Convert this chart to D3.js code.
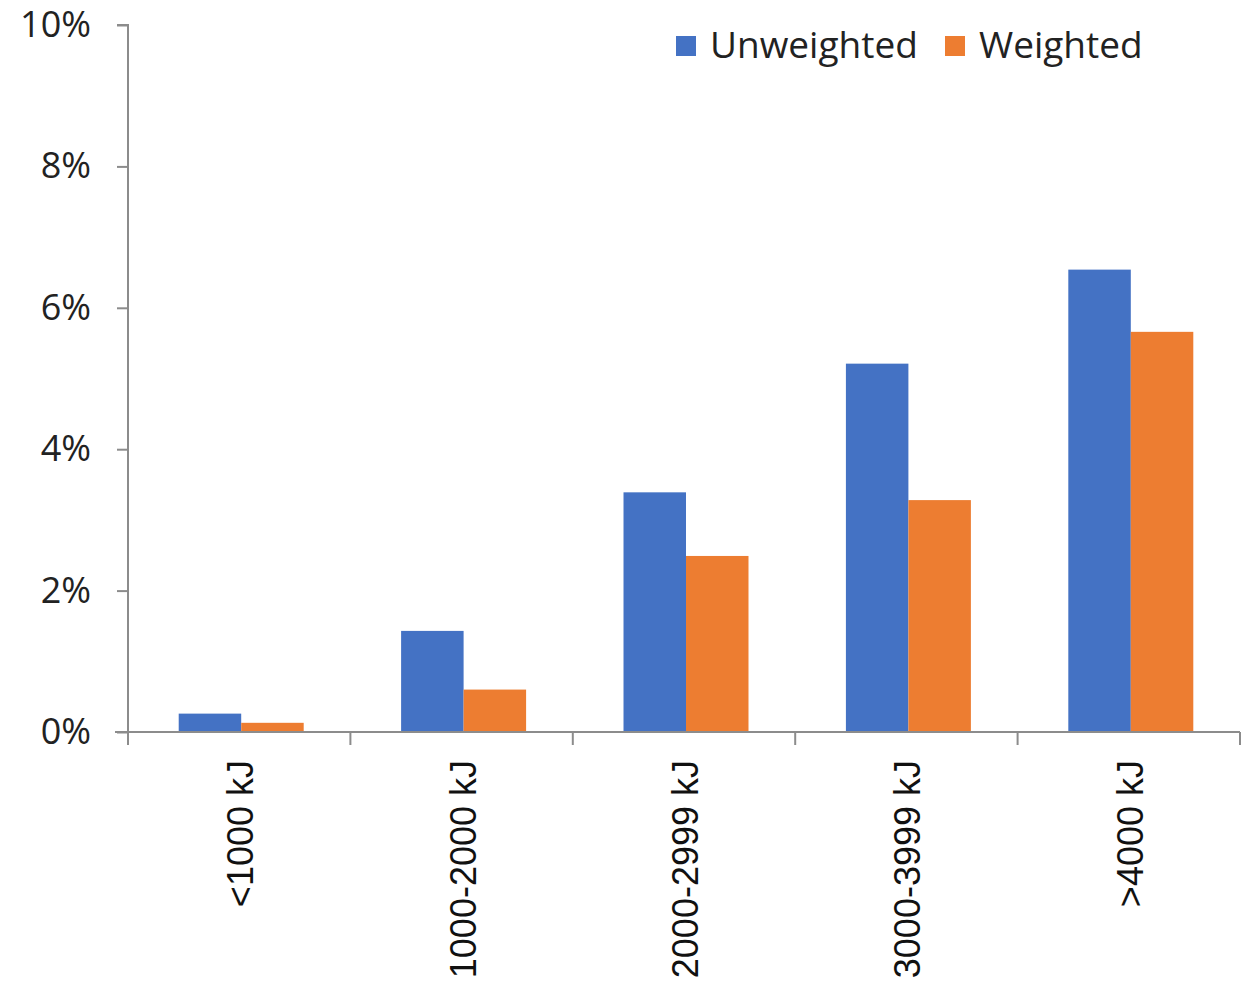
<!DOCTYPE html>
<html>
<head>
<meta charset="utf-8">
<script src="https://cdn.jsdelivr.net/npm/d3@7"></script>
<style>
  html, body { margin: 0; padding: 0; background: #fff; }
  svg { display: block; }
</style>
</head>
<body>
<svg id="chart" width="1250" height="987"></svg>
<script>
// Energy-intake bands and the share in each band (fractions)
const categories = ["<1000 kJ", "1000-2000 kJ", "2000-2999 kJ", "3000-3999 kJ", ">4000 kJ"];
const seriesNames = ["Unweighted", "Weighted"];
const unweighted = [0.0026, 0.0143, 0.0339, 0.0521, 0.0654];
const weighted   = [0.0013, 0.0060, 0.0249, 0.0328, 0.0566];
const yTicks = [0, 0.02, 0.04, 0.06, 0.08, 0.10];
const colors = ["#4472C4", "#ED7D31"];

const svg = d3.select("#chart");
const x0 = 128, x1 = 1240, yBase = 732, yTop = 25;

const x = d3.scaleBand().domain(categories).range([x0, x1]).paddingInner(0).paddingOuter(0);
const xInner = d3.scaleBand().domain(seriesNames)
  .range([x.bandwidth() * 0.228, x.bandwidth() * 0.79]).padding(0);
const y = d3.scaleLinear().domain([0, 0.10]).range([yBase, yTop]);

const axisColor = "#8c8c8c";
const tickFont = "'Open Sans', 'Noto Sans', sans-serif";

// Bars
const rows = categories.map((c, i) => ({ cat: c, vals: [unweighted[i], weighted[i]] }));
const groups = svg.append("g").selectAll("g").data(rows).join("g")
  .attr("transform", d => `translate(${x(d.cat)},0)`);
groups.selectAll("rect")
  .data(d => d.vals.map((v, j) => ({ key: seriesNames[j], v, j })))
  .join("rect")
  .attr("x", d => xInner(d.key))
  .attr("width", xInner.bandwidth())
  .attr("y", d => y(d.v))
  .attr("height", d => yBase - y(d.v))
  .attr("fill", d => colors[d.j]);

// Y axis
const yAxis = d3.axisLeft(y).tickValues(yTicks).tickFormat(d3.format(".0%")).tickSize(11).tickPadding(26);
const gy = svg.append("g").attr("transform", `translate(${x0},0)`).call(yAxis);
gy.select(".domain").attr("stroke", axisColor).attr("stroke-width", 2)
  .attr("d", `M-11,${yTop}H0V${yBase + 13}`);
gy.selectAll(".tick line").attr("stroke", axisColor).attr("stroke-width", 2);
gy.selectAll(".tick text")
  .attr("font-family", tickFont).attr("font-size", 36).attr("fill", "#222");

// X axis
const boundaries = categories.map(c => x(c)).concat([x1]);
const gx = svg.append("g");
gx.append("line").attr("x1", x0 - 13).attr("x2", x1).attr("y1", yBase).attr("y2", yBase)
  .attr("stroke", axisColor).attr("stroke-width", 2);
gx.selectAll("line.tk").data(boundaries.slice(1)).join("line").attr("class", "tk")
  .attr("x1", d => d).attr("x2", d => d).attr("y1", yBase).attr("y2", yBase + 13)
  .attr("stroke", axisColor).attr("stroke-width", 2);
gx.selectAll("text").data(categories).join("text")
  .attr("transform", d => `translate(${x(d) + x.bandwidth() / 2 + 14},${yBase + 28}) rotate(-90)`)
  .attr("text-anchor", "end")
  .attr("font-family", "'Liberation Sans', Arial, sans-serif")
  .attr("font-size", 36)
  .attr("fill", "#111")
  .text(d => d);

// Legend
const legend = svg.append("g").attr("transform", "translate(676,36)");
const legendItems = [{ name: seriesNames[0], dx: 0 }, { name: seriesNames[1], dx: 269 }];
const li = legend.selectAll("g").data(legendItems).join("g")
  .attr("transform", d => `translate(${d.dx},0)`);
li.append("rect").attr("width", 20).attr("height", 20)
  .attr("fill", (d, i) => colors[i]);
li.append("text").attr("x", 34).attr("y", 22)
  .attr("font-family", tickFont).attr("font-size", 37).attr("fill", "#222")
  .text(d => d.name);
</script>
</body>
</html>
